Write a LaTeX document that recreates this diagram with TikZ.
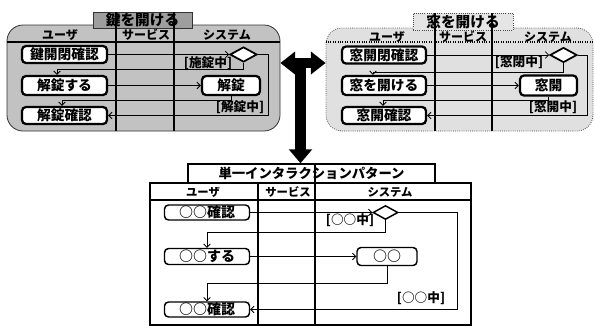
\documentclass[tikz,border=0pt]{standalone}
\usepackage{fontspec}
\newfontfamily\jp{Noto Sans CJK JP}
\usetikzlibrary{arrows.meta,shapes.geometric,calc}
\newcommand\fsz[1]{\fontsize{#1}{#1}\selectfont}
\def\px{0.75pt}
\begin{document}
\begin{tikzpicture}[x=0.75pt,y=-0.75pt,font=\jp\bfseries,
  conn/.style={line width=0.6pt,-{Straight Barb[length=2.5pt,width=5pt]}},
  actT/.style={draw,line width=1.7pt,rounded corners=3pt,fill=white,inner sep=0pt,font=\jp\bfseries\fsz{10.3}},
  actB/.style={draw,line width=1.1pt,rounded corners=3pt,fill=white,inner sep=0pt,font=\jp\bfseries\fsz{10.5}},
  dec/.style={draw,diamond,fill=white,inner sep=0pt,line width=1.3pt},
  grd/.style={inner sep=0pt,font=\jp\bfseries\fsz{9.5}},
  hdrT/.style={inner sep=0pt,font=\jp\bfseries\fsz{9}},
  hdrB/.style={inner sep=0pt,font=\jp\bfseries\fsz{8.5}},
  lane/.style={line width=1.2pt},
  big/.style={line width=8.2pt,draw=black}]
\useasboundingbox (0,0) rectangle (595,329);

% ---------- left panel ----------
\node[draw=black!80,line width=0.6pt,fill=black!24,rounded corners=12pt,minimum width=273*\px,minimum height=106*\px,inner sep=0pt] (lp) at (143.5,78) {};
\node[draw=black!80,line width=0.6pt,fill=black!38,minimum width=99*\px,minimum height=16*\px,inner sep=0pt,font=\jp\bfseries\fsz{11}] (lt) at (142.5,20) {鍵を開ける};
\draw[line width=0.8pt] (lp.west |- 0,42) -- (lp.east |- 0,42);
\draw[lane] (116,12) -- (116,131);
\draw[lane] (174,12) -- (174,131);
\node[hdrT] (lh1) at (60,35) {ユーザ};
\node[hdrT] (lh2) at (146,35) {サービス};
\node[hdrT] (lh3) at (227,35) {システム};
\node[actT,minimum width=85*\px,minimum height=17*\px] (b1) at (64.5,54.5) {鍵開閉確認};
\node[actT,minimum width=85*\px,minimum height=19*\px] (b2) at (64.5,85.5) {解錠する};
\node[actT,minimum width=85*\px,minimum height=17*\px] (b3) at (64.5,115.5) {解錠確認};
\node[dec,minimum width=27*\px,minimum height=15*\px] (d1) at (243.5,54.5) {};
\node[actT,minimum width=58*\px,minimum height=19*\px] (s1) at (231,85.5) {解錠};
\node[grd] (g1) at (208,63) {[施錠中]};
\node[grd] (g2) at (240,107) {[解錠中]};
\coordinate (e1) at (57,69);
\coordinate (e2) at (62,100);
\coordinate (e3) at (268,115.5);
\draw[conn] (b1.east) -- (d1.west);
\draw[conn] (d1.south) |- (e1) -- (e1 |- b2.north);
\draw[conn] (b2.east) -- (s1.west);
\draw[conn] (s1.south) |- (e2) -- (e2 |- b3.north);
\draw[conn] (d1.east) -| (e3) -- (b3.east);

% ---------- right panel ----------
\node[draw=black!70,densely dotted,line width=0.6pt,fill=black!12,rounded corners=12pt,minimum width=267*\px,minimum height=103*\px,inner sep=0pt] (rp) at (459.5,79.5) {};
\node[draw=black!70,densely dotted,line width=0.6pt,fill=black!10,minimum width=100*\px,minimum height=17*\px,inner sep=0pt,font=\jp\bfseries\fsz{11}] (rt) at (463,21.5) {窓を開ける};
\draw[line width=0.8pt,densely dotted] (rp.west |- 0,42) -- (rp.east |- 0,42);
\draw[lane] (435,13) -- (435,131);
\draw[lane] (492,13) -- (492,131);
\node[hdrT] (rh1) at (387,37) {ユーザ};
\node[hdrT] (rh2) at (463,37) {サービス};
\node[hdrT] (rh3) at (548,37) {システム};
\node[actT,minimum width=84*\px,minimum height=17*\px] (r1) at (384,55) {窓開閉確認};
\node[actT,minimum width=84*\px,minimum height=19*\px] (r2) at (384,85.5) {窓を開ける};
\node[actT,minimum width=84*\px,minimum height=17*\px] (r3) at (384,115.5) {窓開確認};
\node[dec,minimum width=27*\px,minimum height=15*\px] (d2) at (563.5,55) {};
\node[actT,minimum width=57*\px,minimum height=20*\px] (s2) at (548.5,85.5) {窓開};
\node[grd] (g3) at (519,62.5) {[窓閉中]};
\node[grd] (g4) at (553,107) {[窓開中]};
\coordinate (f1) at (373,72);
\coordinate (f2) at (383,100);
\coordinate (f3) at (587,115.5);
\draw[conn] (r1.east) -- (d2.west);
\draw[conn] (d2.south) |- (f1) -- (f1 |- r2.north);
\draw[conn] (r2.east) -- (s2.west);
\draw[conn] (s2.south) |- (f2) -- (f2 |- r3.north);
\draw[conn] (d2.east) -| (f3) -- (r3.east);

% ---------- bottom pattern ----------
\node[draw,line width=1.1pt,minimum width=321*\px,minimum height=142*\px,inner sep=0pt] (tb) at (310.5,254) {};
\node[draw,fill=white,line width=1.1pt,minimum width=247*\px,minimum height=19*\px,inner sep=0pt,font=\jp\bfseries\fsz{10}] (tt) at (311.5,173.5) {単一インタラクションパターン};
\draw[line width=0.8pt] (tb.west |- 0,200) -- (tb.east |- 0,200);
\draw[line width=0.8pt] (258,183) -- (258,325);
\draw[line width=0.8pt] (315,164) -- (315,325);
\node[hdrB] (bh1) at (203,192) {ユーザ};
\node[hdrB] (bh2) at (288,192) {サービス};
\node[hdrB] (bh3) at (390,192) {システム};
\node[actB,minimum width=85*\px,minimum height=15*\px] (c1) at (207,212.5) {○○確認};
\node[actB,minimum width=85*\px,minimum height=16*\px] (c2) at (207,256.5) {○○する};
\node[actB,minimum width=85*\px,minimum height=15*\px] (c3) at (207,309.5) {○○確認};
\node[dec,line width=1.1pt,minimum width=25*\px,minimum height=14*\px] (d3) at (385.5,212.5) {};
\node[actB,minimum width=60*\px,minimum height=18*\px] (s3) at (387,256.5) {○○};
\node[grd] (g5) at (350,220) {[○○中]};
\node[grd] (g6) at (421,298) {[○○中]};
\coordinate (h1) at (207,232);
\coordinate (h2) at (207,283);
\coordinate (h3) at (457,309.5);
\draw[conn] (c1.east) -- (d3.west);
\draw[conn] (d3.south) |- (h1) -- (c2.north);
\draw[conn] (c2.east) -- (s3.west);
\draw[conn] (s3.south) |- (h2) -- (c3.north);
\draw[conn] (d3.east) -| (h3) -- (c3.east);

% ---------- big arrows ----------
\coordinate (jc) at (300.5,63);
\draw[big,{Triangle[length=11pt,width=16.5pt]}-{Triangle[length=11pt,width=16.5pt]}] (jc -| lp.east) -- (jc -| rp.west);
\draw[big,-{Triangle[length=10.5pt,width=17pt]}] ($(jc)+(0,-4)$) -- (jc |- tt.north);
\end{tikzpicture}
\end{document}
